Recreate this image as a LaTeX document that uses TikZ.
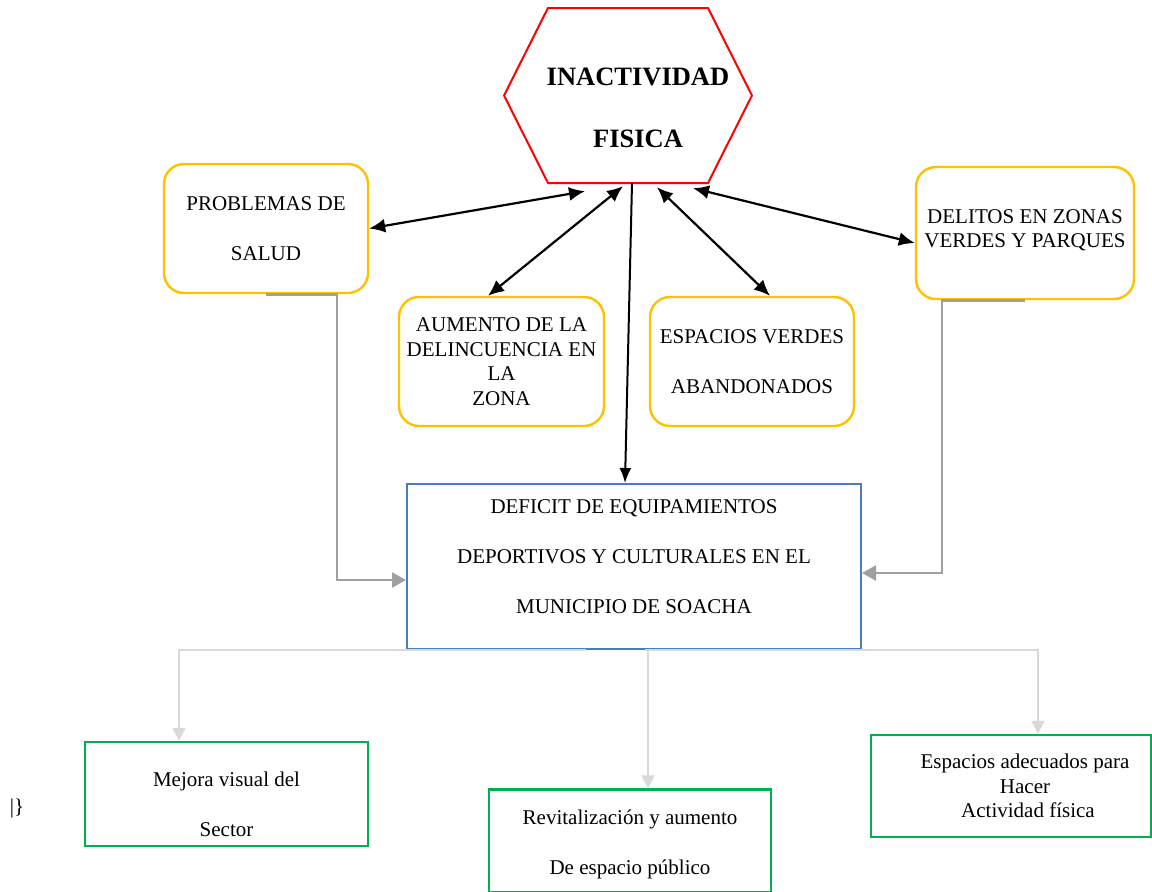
\documentclass[tikz,border=0pt]{standalone}
\usepackage{fontspec}
\setmainfont{Liberation Serif}
\usepackage{tikz}
\usetikzlibrary{positioning,arrows.meta}
\definecolor{causa}{HTML}{FFC000}
\definecolor{efecto}{HTML}{00B050}
\definecolor{problema}{HTML}{4A7EBB}
\definecolor{nucleo}{HTML}{FF0000}
\definecolor{enlace}{HTML}{A0A0A0}
\definecolor{salida}{HTML}{D9D9D9}

\begin{document}
\begin{tikzpicture}[x=1pt,y=-1pt,font=\fontsize{21}{24.5}\selectfont]
    \tikzstyle{causebox}=[draw=causa, line width=2.4pt, rounded corners=20pt, align=center, inner sep=0pt, minimum width=204pt, minimum height=129pt]
    \tikzstyle{effectbox}=[draw=efecto, line width=2.4pt, align=center, inner sep=0pt, minimum width=282pt, minimum height=103pt]
    \tikzstyle{dbl}=[line width=2.2pt, {Latex[length=16pt,width=14pt]}-{Latex[length=16pt,width=14pt]}]
    \tikzstyle{single}=[line width=2pt, -{Latex[length=15pt,width=12pt]}]
    \tikzstyle{uplink}=[draw=enlace, line width=2.6pt, -{Triangle[length=14pt,width=15pt]}]
    \tikzstyle{downlink}=[draw=salida, line width=2.4pt, -{Triangle[length=13pt,width=13pt]}]
    \useasboundingbox (0,0) rectangle (1152,892);
    % central problem
    \draw[nucleo, line width=2pt] (504,95.5) -- (548,8) -- (708,8) -- (752,95.5) -- (708,183) -- (548,183) -- cycle;
    \node[minimum width=248pt, minimum height=175pt, inner sep=0pt, align=center, font=\fontsize{26.5}{62}\selectfont\bfseries] (inactividad) at (628,95.5) {\hspace*{20pt}\rule{0pt}{42pt}INACTIVIDAD\\\hspace*{20pt}FISICA};
    % causes
    \node[causebox] (salud) at (266,228.5) {PROBLEMAS DE\\[25.5pt]SALUD};
    \node[causebox, minimum width=205pt] (aumento) at (501.5,361.5) {AUMENTO DE LA\\DELINCUENCIA EN\\LA\\ZONA};
    \node[causebox, on grid, right=250.5pt of aumento] (verdes) {ESPACIOS VERDES\\[25.5pt]ABANDONADOS};
    \node[causebox, minimum width=218pt, minimum height=132pt] (delitos) at (1025,233) {DELITOS EN ZONAS\\VERDES Y PARQUES\\[-16pt]\mbox{}};
    % main deficit
    \node[draw=problema, line width=2pt, align=center, inner sep=0pt, minimum width=454pt, minimum height=165pt] (deficit) at (634,566.5) {DEFICIT DE EQUIPAMIENTOS\\[25.5pt]DEPORTIVOS Y CULTURALES EN EL\\[25.5pt]MUNICIPIO DE SOACHA\\[-5pt]\mbox{}};
    % effects
    \node[effectbox, minimum width=283pt, minimum height=104pt] (mejora) at (226.5,794) {\rule{0pt}{35pt}Mejora visual del\\[25.5pt]Sector};
    \node[effectbox] (revit) at (630,841) {\rule{0pt}{21pt}Revitalización y aumento\\[25.5pt]De espacio público};
    \node[effectbox, minimum width=280pt, minimum height=102pt] (espacios) at (1011,786) {\hspace*{28pt}Espacios adecuados para\\\hspace*{28pt}Hacer\\\hspace*{34pt}Actividad física};
    \node (marca) at (17,808) {\textbar\}};
    % links
    \draw[dbl] (salud.east) -- ([shift={(-43,8)}]inactividad.south);
    \draw[dbl] ([xshift=-13.5pt]aumento.north) -- ([shift={(-5,3)}]inactividad.south);
    \draw[single] ([xshift=4pt]inactividad.south) -- ([xshift=-9pt]deficit.north);
    \draw[dbl] ([shift={(29,4)}]inactividad.south) -- ([xshift=18pt]verdes.north);
    \draw[dbl] ([shift={(65,5)}]inactividad.south) -- ([yshift=-10pt]delitos.west);
    \draw[uplink] (salud.south) -- ++(71,0) |- ([yshift=-13.5pt]deficit.west);
    \draw[uplink] (delitos.south) -- ++(-83,0) |- ([yshift=-6.5pt]deficit.east);
    \draw[downlink] ([xshift=-48pt]deficit.south) -| ([xshift=-47.5pt]mejora.north);
    \draw[downlink] ([xshift=14pt]deficit.south) -- ([xshift=14pt]deficit.south |- revit.north);
    \draw[downlink] ([xshift=11pt]deficit.south) -| ([xshift=27pt]espacios.north);
\end{tikzpicture}
\end{document}
